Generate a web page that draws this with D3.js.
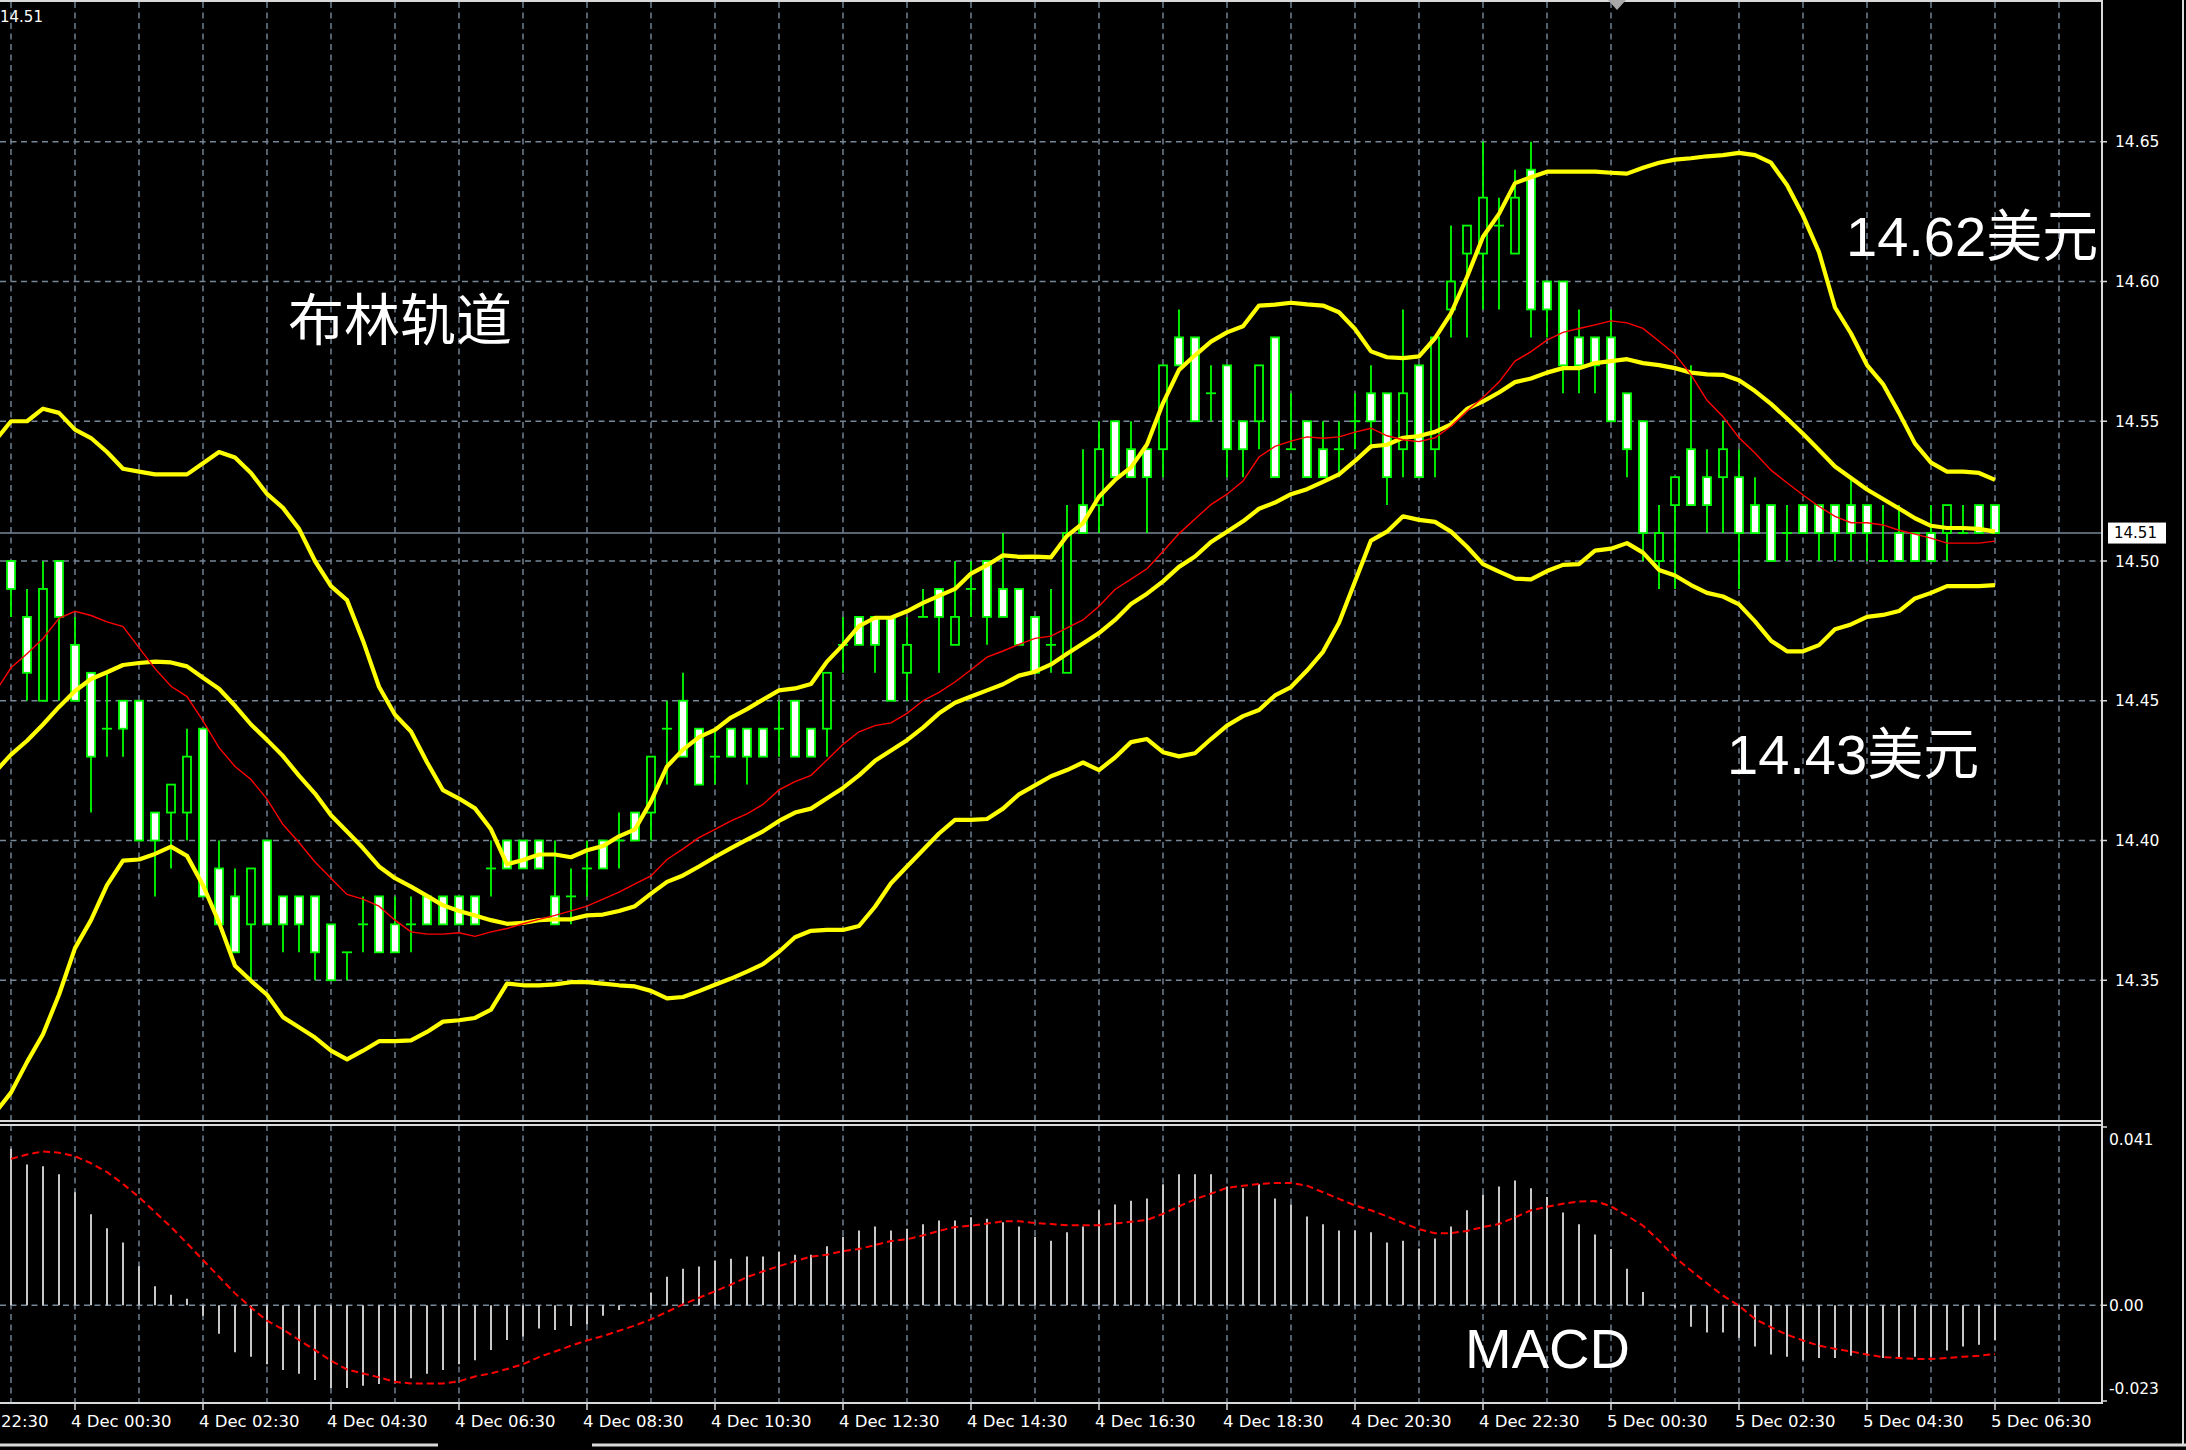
<!DOCTYPE html>
<html><head><meta charset="utf-8">
<script src="https://cdn.jsdelivr.net/npm/d3@7"></script>
<style>html,body{margin:0;padding:0;background:#000;overflow:hidden}</style>
</head><body>
<svg id="chart" width="2186" height="1450" xmlns="http://www.w3.org/2000/svg"></svg>
<script>
// ---------------- DATA (XAG M15) ----------------
const firstBarTime = "3 Dec 23:30";   // time of the first candle
const barMinutes = 15;
const currentPrice = 14.51;

const openPx  = [14.50,14.48,14.45,14.50,14.47,14.46,14.44,14.45,14.45,14.41,14.41,14.41,14.44,14.39,14.38,14.37,14.40,14.38,14.38,14.38,14.37,14.36,14.37,14.38,14.37,14.37,14.38,14.38,14.38,14.38,14.39,14.40,14.40,14.40,14.38,14.38,14.39,14.40,14.40,14.41,14.41,14.44,14.45,14.44,14.43,14.44,14.44,14.44,14.44,14.45,14.44,14.44,14.47,14.48,14.48,14.48,14.46,14.48,14.49,14.47,14.49,14.50,14.49,14.49,14.48,14.47,14.46,14.52,14.52,14.55,14.54,14.54,14.54,14.58,14.58,14.56,14.57,14.55,14.55,14.58,14.54,14.55,14.54,14.54,14.55,14.56,14.56,14.54,14.57,14.54,14.59,14.61,14.61,14.62,14.61,14.64,14.60,14.60,14.58,14.58,14.58,14.56,14.55,14.50,14.52,14.54,14.53,14.53,14.53,14.52,14.52,14.51,14.52,14.52,14.52,14.52,14.52,14.50,14.51,14.51,14.51,14.51,14.51,14.52,14.52];
const highPx  = [14.50,14.49,14.50,14.50,14.48,14.46,14.46,14.45,14.45,14.41,14.42,14.44,14.44,14.40,14.39,14.39,14.40,14.38,14.38,14.38,14.37,14.36,14.38,14.38,14.38,14.38,14.38,14.38,14.38,14.38,14.40,14.40,14.40,14.40,14.40,14.39,14.40,14.40,14.41,14.41,14.43,14.45,14.46,14.44,14.44,14.44,14.44,14.44,14.45,14.45,14.44,14.46,14.48,14.48,14.48,14.48,14.48,14.49,14.49,14.50,14.50,14.50,14.51,14.49,14.48,14.49,14.52,14.54,14.55,14.55,14.55,14.54,14.57,14.59,14.58,14.57,14.57,14.55,14.57,14.58,14.56,14.55,14.55,14.55,14.56,14.57,14.56,14.59,14.57,14.58,14.62,14.62,14.65,14.63,14.64,14.65,14.60,14.60,14.59,14.58,14.59,14.56,14.55,14.52,14.53,14.57,14.54,14.55,14.54,14.53,14.52,14.52,14.52,14.52,14.52,14.53,14.52,14.52,14.52,14.51,14.52,14.52,14.52,14.52,14.52];
const lowPx   = [14.48,14.45,14.45,14.45,14.45,14.41,14.43,14.43,14.40,14.38,14.39,14.40,14.38,14.37,14.36,14.35,14.37,14.36,14.36,14.35,14.35,14.35,14.36,14.36,14.36,14.36,14.37,14.37,14.37,14.37,14.38,14.39,14.39,14.39,14.37,14.37,14.38,14.39,14.39,14.40,14.40,14.42,14.43,14.42,14.42,14.43,14.42,14.43,14.43,14.43,14.43,14.43,14.46,14.47,14.46,14.45,14.45,14.48,14.46,14.47,14.48,14.47,14.48,14.47,14.46,14.46,14.46,14.51,14.51,14.53,14.53,14.51,14.53,14.57,14.55,14.55,14.53,14.53,14.54,14.53,14.54,14.53,14.53,14.53,14.54,14.54,14.52,14.53,14.53,14.53,14.58,14.58,14.59,14.59,14.61,14.58,14.58,14.56,14.56,14.56,14.55,14.53,14.50,14.49,14.49,14.52,14.51,14.51,14.49,14.51,14.50,14.50,14.51,14.50,14.50,14.50,14.50,14.50,14.50,14.50,14.50,14.50,14.51,14.51,14.51];
const closePx = [14.49,14.46,14.49,14.48,14.45,14.43,14.44,14.44,14.40,14.40,14.42,14.43,14.38,14.37,14.36,14.39,14.37,14.37,14.37,14.36,14.35,14.36,14.37,14.36,14.36,14.37,14.37,14.37,14.37,14.37,14.39,14.39,14.39,14.39,14.37,14.38,14.39,14.39,14.40,14.40,14.43,14.44,14.43,14.42,14.43,14.43,14.43,14.43,14.44,14.43,14.43,14.46,14.47,14.47,14.47,14.45,14.47,14.48,14.48,14.48,14.49,14.48,14.48,14.47,14.46,14.47,14.51,14.51,14.54,14.53,14.53,14.53,14.57,14.57,14.55,14.56,14.54,14.54,14.57,14.53,14.54,14.53,14.53,14.54,14.55,14.55,14.53,14.56,14.53,14.58,14.60,14.62,14.63,14.62,14.63,14.59,14.59,14.57,14.57,14.57,14.55,14.54,14.51,14.51,14.53,14.52,14.52,14.54,14.51,14.51,14.50,14.51,14.51,14.51,14.51,14.51,14.51,14.50,14.50,14.50,14.50,14.52,14.51,14.51,14.51];

// Indicator lines: first value belongs to the bar just before the first candle (off the left edge)
const bbUpper = [14.543,14.550,14.550,14.5545,14.553,14.547,14.544,14.539,14.533,14.532,14.531,14.531,14.531,14.535,14.539,14.537,14.5315,14.524,14.519,14.5115,14.500,14.491,14.486,14.4715,14.455,14.445,14.439,14.428,14.418,14.415,14.4115,14.404,14.3915,14.393,14.395,14.395,14.394,14.3965,14.398,14.4015,14.404,14.414,14.4265,14.4325,14.437,14.4396,14.444,14.447,14.4504,14.4537,14.4544,14.456,14.464,14.470,14.4767,14.4797,14.4797,14.482,14.485,14.4875,14.490,14.4955,14.4985,14.502,14.5015,14.5016,14.5013,14.509,14.5135,14.523,14.529,14.5335,14.5417,14.5565,14.5684,14.5736,14.5785,14.5818,14.584,14.5914,14.5917,14.5924,14.5918,14.5914,14.589,14.583,14.575,14.5729,14.5726,14.5732,14.5797,14.5886,14.6016,14.616,14.6242,14.6352,14.6373,14.6393,14.6393,14.6393,14.6393,14.6389,14.6386,14.6407,14.6425,14.6436,14.6441,14.6448,14.6452,14.646,14.6452,14.6425,14.6345,14.6236,14.6105,14.5907,14.5814,14.5701,14.5633,14.553,14.542,14.5352,14.532,14.532,14.5315,14.529];
const bbMiddle = [14.4245,14.4307,14.4357,14.4415,14.4478,14.4535,14.4578,14.4602,14.4628,14.4635,14.464,14.4637,14.4623,14.4582,14.4543,14.4482,14.4415,14.436,14.4302,14.4232,14.4168,14.409,14.4032,14.3973,14.3907,14.3865,14.3835,14.3802,14.3768,14.3748,14.3732,14.3715,14.3702,14.3705,14.3715,14.3718,14.3718,14.3732,14.3735,14.3748,14.3765,14.381,14.3852,14.3875,14.3907,14.3941,14.3973,14.4003,14.4033,14.407,14.41,14.4114,14.4151,14.4188,14.4233,14.4285,14.4322,14.4359,14.4404,14.4455,14.4493,14.4515,14.4537,14.4559,14.459,14.4604,14.463,14.4668,14.4705,14.4742,14.4789,14.4846,14.4883,14.4927,14.4979,14.5016,14.5068,14.5105,14.5142,14.5187,14.5209,14.5239,14.5257,14.5283,14.531,14.5358,14.541,14.5416,14.5441,14.5447,14.5462,14.5489,14.5544,14.5571,14.5603,14.564,14.5653,14.5674,14.569,14.569,14.5708,14.5715,14.5722,14.5708,14.5701,14.569,14.5674,14.5668,14.5666,14.5647,14.5608,14.5562,14.551,14.5455,14.5397,14.5338,14.5297,14.5256,14.5222,14.5188,14.5153,14.5126,14.5118,14.5118,14.5115,14.5105];
const bbLower = [14.3025,14.3098,14.3207,14.3307,14.3448,14.3615,14.3715,14.384,14.3928,14.3932,14.3952,14.3978,14.3945,14.384,14.3707,14.3552,14.3498,14.3448,14.3368,14.3332,14.3295,14.3248,14.3217,14.3248,14.3282,14.3282,14.3285,14.3315,14.3352,14.3357,14.3365,14.3395,14.3488,14.3482,14.3482,14.3485,14.3493,14.3493,14.3488,14.3482,14.3478,14.3462,14.3435,14.344,14.3461,14.3484,14.3506,14.3531,14.3558,14.3602,14.3654,14.3677,14.368,14.368,14.3694,14.3763,14.3847,14.3907,14.3966,14.4025,14.4074,14.4074,14.4077,14.4114,14.4165,14.4197,14.423,14.4252,14.4279,14.4252,14.4297,14.4352,14.4363,14.4316,14.4301,14.4312,14.4363,14.4411,14.4445,14.4467,14.4519,14.4549,14.4608,14.4675,14.4779,14.4927,14.5073,14.5105,14.516,14.5147,14.514,14.5105,14.5051,14.4989,14.4962,14.4937,14.4934,14.4964,14.4986,14.4989,14.5037,14.5044,14.5064,14.503,14.4968,14.4948,14.4914,14.4886,14.4873,14.4845,14.4784,14.4715,14.4677,14.4677,14.4699,14.4756,14.4773,14.48,14.4807,14.4821,14.4866,14.4886,14.491,14.491,14.491,14.4914];
const maRed = [14.453,14.4618,14.4668,14.4723,14.4795,14.482,14.4805,14.4782,14.4765,14.469,14.4615,14.4552,14.4515,14.4428,14.4332,14.4265,14.4218,14.4148,14.4057,14.3993,14.3923,14.3865,14.3807,14.379,14.3765,14.3715,14.3673,14.3665,14.3665,14.367,14.3657,14.3673,14.3685,14.3702,14.3718,14.3732,14.3748,14.3765,14.379,14.3815,14.3845,14.3873,14.3932,14.397,14.401,14.404,14.407,14.4095,14.4129,14.4181,14.4211,14.4233,14.4288,14.4344,14.4389,14.4411,14.4421,14.4455,14.45,14.453,14.4567,14.4611,14.4656,14.4678,14.4702,14.4723,14.4731,14.4761,14.4789,14.4838,14.4898,14.4935,14.4972,14.5034,14.5098,14.515,14.5202,14.5239,14.5286,14.5372,14.541,14.5429,14.5444,14.5439,14.5444,14.5461,14.5475,14.5448,14.5434,14.5427,14.5441,14.5482,14.5537,14.5585,14.564,14.5715,14.5749,14.579,14.5818,14.5832,14.5845,14.5859,14.5852,14.5832,14.5786,14.574,14.5667,14.5575,14.5516,14.5441,14.5386,14.5325,14.528,14.5236,14.5195,14.516,14.5137,14.5137,14.5129,14.511,14.5096,14.5082,14.5064,14.5064,14.5064,14.5071];

const macdHist = [0.0356,0.0320,0.0316,0.0298,0.0257,0.0207,0.0175,0.0143,0.0089,0.0043,0.0024,0.0015,-0.0024,-0.0065,-0.0107,-0.0117,-0.0134,-0.0147,-0.0156,-0.0170,-0.0188,-0.0188,-0.0183,-0.0179,-0.0178,-0.0166,-0.0156,-0.0147,-0.0134,-0.0125,-0.0102,-0.0079,-0.0071,-0.0053,-0.0056,-0.0047,-0.0044,-0.0024,-0.0011,-0.0002,0.0029,0.0065,0.0083,0.0088,0.0102,0.0106,0.0111,0.0111,0.0121,0.0115,0.0115,0.0134,0.0156,0.0170,0.0179,0.0170,0.0174,0.0184,0.0193,0.0193,0.0200,0.0197,0.0189,0.0179,0.0156,0.0147,0.0166,0.0179,0.0216,0.0229,0.0238,0.0243,0.0275,0.0298,0.0298,0.0298,0.0270,0.0266,0.0275,0.0243,0.0229,0.0202,0.0184,0.0170,0.0170,0.0166,0.0143,0.0147,0.0129,0.0152,0.0179,0.0216,0.0252,0.0270,0.0284,0.0266,0.0246,0.0211,0.0184,0.0161,0.0128,0.0083,0.0030,0.0002,-0.0005,-0.0049,-0.0062,-0.0062,-0.0074,-0.0094,-0.0112,-0.0117,-0.0125,-0.0120,-0.0120,-0.0115,-0.0115,-0.0120,-0.0120,-0.0117,-0.0117,-0.0103,-0.0094,-0.0090,-0.0079];
const macdSignal = [0.0333,0.0343,0.0350,0.0347,0.0339,0.0323,0.0303,0.0276,0.0246,0.0212,0.0178,0.0141,0.0103,0.0065,0.0027,-0.0005,-0.0035,-0.0055,-0.0079,-0.0102,-0.0126,-0.0146,-0.0155,-0.0164,-0.0174,-0.0178,-0.0178,-0.0178,-0.0173,-0.0162,-0.0155,-0.0145,-0.0134,-0.0118,-0.0105,-0.0092,-0.0080,-0.0070,-0.0058,-0.0046,-0.0032,-0.0015,0.0002,0.0017,0.0032,0.0047,0.0064,0.0077,0.0089,0.0100,0.0111,0.0115,0.0123,0.0128,0.0137,0.0146,0.0150,0.0159,0.0169,0.0178,0.0181,0.0186,0.0191,0.0191,0.0187,0.0185,0.0182,0.0182,0.0182,0.0186,0.0190,0.0194,0.0208,0.0225,0.0241,0.0254,0.0267,0.0272,0.0276,0.0278,0.0278,0.0272,0.0257,0.0242,0.0227,0.0216,0.0202,0.0187,0.0173,0.0164,0.0164,0.0169,0.0178,0.0185,0.0200,0.0216,0.0224,0.0231,0.0236,0.0237,0.0225,0.0204,0.0181,0.0147,0.0109,0.0079,0.0050,0.0022,-0.0001,-0.0031,-0.0050,-0.0067,-0.0080,-0.0092,-0.0099,-0.0105,-0.0112,-0.0118,-0.0120,-0.0122,-0.0122,-0.0120,-0.0117,-0.0115,-0.0111];

const priceTicks = [14.35, 14.40, 14.45, 14.50, 14.55, 14.60, 14.65];
const macdTickValues = [0.041, 0, -0.023];
const macdTickLabels = ["0.041", "0.00", "-0.023"];
const timeTickLabels = ["3 Dec 22:30","4 Dec 00:30","4 Dec 02:30","4 Dec 04:30","4 Dec 06:30","4 Dec 08:30","4 Dec 10:30","4 Dec 12:30","4 Dec 14:30","4 Dec 16:30","4 Dec 18:30","4 Dec 20:30","4 Dec 22:30","5 Dec 00:30","5 Dec 02:30","5 Dec 04:30","5 Dec 06:30"];

const titleText = "布林轨道";
const upperNote = "14.62美元";
const lowerNote = "14.43美元";
const macdText = "MACD";

// ---------------- LAYOUT ----------------
const W = 2186, H = 1450;
const plotL = 0, plotR = 2102;
const mainTop = 2, mainBot = 1120;
const macdTop = 1125, macdBot = 1402;
const frameColor = "#d9d9d9";
const gridColor = "#778899";
const axisFont = "'DejaVu Sans', Verdana, sans-serif";

const svg = d3.select("#chart");
svg.append("rect").attr("width", W).attr("height", H).attr("fill", "#000");

const parseT = d3.timeParse("%d %b %H:%M");
const t0 = parseT(firstBarTime);
const barTime = k => d3.timeMinute.offset(t0, barMinutes * k);
const nBars = openPx.length;

const x = d3.scaleTime().domain([barTime(0), barTime(nBars - 1)]).range([11, 1995]);
const y = d3.scaleLinear().domain([14.30, 14.70]).range([mainBot, mainTop]);
const ym = d3.scaleLinear().domain([-0.022, 0.041]).range([macdBot, macdTop]);

const defs = svg.append("defs");
defs.append("clipPath").attr("id", "clipMain").append("rect")
  .attr("x", plotL).attr("y", mainTop).attr("width", plotR - plotL).attr("height", mainBot - mainTop);
defs.append("clipPath").attr("id", "clipMacd").append("rect")
  .attr("x", plotL).attr("y", macdTop).attr("width", plotR - plotL).attr("height", macdBot - macdTop);

// ---------- grid ----------
const grid = svg.append("g").attr("stroke", gridColor).attr("stroke-width", 1.4).attr("stroke-dasharray", "6,4.5").attr("fill", "none");
const gridTimes = d3.range(0, 34).map(h => d3.timeHour.offset(t0, h)).filter(t => x(t) < plotR - 2);
gridTimes.forEach(t => {
  grid.append("line").attr("x1", x(t)).attr("x2", x(t)).attr("y1", mainTop).attr("y2", mainBot);
  grid.append("line").attr("x1", x(t)).attr("x2", x(t)).attr("y1", macdTop).attr("y2", macdBot);
});
priceTicks.forEach(p => grid.append("line").attr("x1", plotL).attr("x2", plotR).attr("y1", y(p)).attr("y2", y(p)));
grid.append("line").attr("x1", plotL).attr("x2", plotR).attr("y1", ym(0)).attr("y2", ym(0));

// current price line
svg.append("line").attr("x1", plotL).attr("x2", plotR).attr("y1", y(currentPrice)).attr("y2", y(currentPrice))
  .attr("stroke", gridColor).attr("stroke-width", 1.6);

// ---------- candles ----------
const main = svg.append("g").attr("clip-path", "url(#clipMain)");
const bars = d3.range(nBars).map(k => ({t: barTime(k), o: openPx[k], h: highPx[k], l: lowPx[k], c: closePx[k]}));
const lime = "#00ff00";
main.append("g").selectAll("line").data(bars).join("line")
  .attr("x1", d => x(d.t)).attr("x2", d => x(d.t))
  .attr("y1", d => y(d.h)).attr("y2", d => y(d.l))
  .attr("stroke", lime).attr("stroke-width", 1.8);
const bodyHalf = 4;
main.append("g").selectAll("rect").data(bars.filter(d => d.o !== d.c)).join("rect")
  .attr("x", d => x(d.t) - bodyHalf).attr("width", bodyHalf * 2)
  .attr("y", d => y(Math.max(d.o, d.c))).attr("height", d => Math.abs(y(d.o) - y(d.c)))
  .attr("fill", d => d.c < d.o ? "#ffffff" : "#000000")
  .attr("stroke", lime).attr("stroke-width", 1.8);
main.append("g").selectAll("line").data(bars.filter(d => d.o === d.c)).join("line")
  .attr("x1", d => x(d.t) - bodyHalf - 1).attr("x2", d => x(d.t) + bodyHalf + 1)
  .attr("y1", d => y(d.c)).attr("y2", d => y(d.c))
  .attr("stroke", lime).attr("stroke-width", 1.8);

// ---------- Bollinger bands & MA ----------
const lineGen = d3.line().x((v, k) => x(barTime(k - 1))).y(v => y(v));
[bbUpper, bbMiddle, bbLower].forEach(arr => {
  main.append("path").attr("d", lineGen(arr)).attr("fill", "none")
    .attr("stroke", "#ffff00").attr("stroke-width", 4.2).attr("stroke-linejoin", "round");
});
main.append("path").attr("d", lineGen(maRed)).attr("fill", "none")
  .attr("stroke", "#ff0000").attr("stroke-width", 1.4);

// ---------- MACD ----------
const macd = svg.append("g").attr("clip-path", "url(#clipMacd)");
macd.append("g").selectAll("line").data(macdHist).join("line")
  .attr("x1", (v, k) => x(barTime(k))).attr("x2", (v, k) => x(barTime(k)))
  .attr("y1", ym(0)).attr("y2", v => ym(v))
  .attr("stroke", "#c8c8c8").attr("stroke-width", 2);
macd.append("path")
  .attr("d", d3.line().x((v, k) => x(barTime(k))).y(v => ym(v))(macdSignal))
  .attr("fill", "none").attr("stroke", "#ff0000").attr("stroke-width", 2).attr("stroke-dasharray", "7,4");

// ---------- frames ----------
const frame = svg.append("g").attr("stroke", frameColor).attr("stroke-width", 2).attr("fill", "none");
frame.append("line").attr("x1", 0).attr("x2", plotR).attr("y1", 1).attr("y2", 1);
frame.append("line").attr("x1", 0).attr("x2", plotR).attr("y1", mainBot + 1).attr("y2", mainBot + 1);
frame.append("line").attr("x1", 0).attr("x2", plotR).attr("y1", macdTop).attr("y2", macdTop);
frame.append("line").attr("x1", 0).attr("x2", plotR).attr("y1", macdBot + 1).attr("y2", macdBot + 1);
frame.append("line").attr("x1", plotR).attr("x2", plotR).attr("y1", 0).attr("y2", macdBot + 2);
// window frame
frame.append("line").attr("x1", 2183).attr("x2", 2183).attr("y1", 0).attr("y2", 1446);
frame.append("line").attr("x1", 0).attr("x2", 438).attr("y1", 1445).attr("y2", 1445).attr("stroke-width", 3);
frame.append("line").attr("x1", 592).attr("x2", 2186).attr("y1", 1445).attr("y2", 1445).attr("stroke-width", 3);

// chart-shift marker
svg.append("path").attr("d", d3.line()([[1608, 0], [1626, 0], [1617, 10]]) + "Z").attr("fill", "#a9a9a9");

// ---------- price axis ----------
const axisG = svg.append("g").attr("font-family", axisFont).attr("font-size", 15.5).attr("fill", "#ffffff");
priceTicks.forEach(p => {
  svg.append("line").attr("x1", plotR).attr("x2", plotR + 5).attr("y1", y(p)).attr("y2", y(p)).attr("stroke", frameColor).attr("stroke-width", 1.5);
  axisG.append("text").attr("x", 2115).attr("y", y(p)).attr("dy", "0.36em").text(d3.format(".2f")(p));
});
macdTickValues.forEach((v, k) => {
  const yy = Math.max(macdTop + 14, Math.min(macdBot - 14, ym(v)));
  const ty = k === 0 ? macdTop + 2 : (k === 2 ? macdBot - 1 : yy);
  svg.append("line").attr("x1", plotR).attr("x2", plotR + 5).attr("y1", ty).attr("y2", ty).attr("stroke", frameColor).attr("stroke-width", 1.5);
  axisG.append("text").attr("x", 2109).attr("y", yy).attr("dy", "0.36em").text(macdTickLabels[k]);
});
// current price tag
svg.append("rect").attr("x", 2108).attr("y", y(currentPrice) - 10.5).attr("width", 58).attr("height", 21).attr("fill", "#ffffff");
svg.append("text").attr("x", 2114).attr("y", y(currentPrice)).attr("dy", "0.36em")
  .attr("font-family", axisFont).attr("font-size", 15).attr("fill", "#000").text(d3.format(".2f")(currentPrice));
// top-left price
svg.append("text").attr("x", 0).attr("y", 17).attr("dy", "0.36em")
  .attr("font-family", axisFont).attr("font-size", 15).attr("fill", "#ffffff").text(d3.format(".2f")(currentPrice));

// ---------- time axis ----------
const timeG = svg.append("g").attr("font-family", axisFont).attr("font-size", 16.5).attr("fill", "#ffffff");
timeTickLabels.forEach(s => {
  const tx = x(parseT(s));
  svg.append("line").attr("x1", tx).attr("x2", tx).attr("y1", macdBot + 1).attr("y2", macdBot + 8).attr("stroke", frameColor).attr("stroke-width", 1.5);
  if (tx - 4 < 0) {
    // label whose start lies left of the window: only its time part shows, at the left edge
    timeG.append("text").attr("x", 1).attr("y", 1421).attr("dy", "0.36em").text(s.split(" ").pop());
  } else {
    timeG.append("text").attr("x", tx - 4).attr("y", 1421).attr("dy", "0.36em").text(s);
  }
});

// ---------- annotations ----------
svg.append("text").attr("x", 288).attr("y", 340).attr("font-family", "'Noto Sans CJK SC', sans-serif")
  .attr("font-size", 56).attr("fill", "#ffffff").text(titleText);
svg.append("text").attr("x", 1846).attr("y", 256).attr("font-family", "'Liberation Sans', Arial, 'Noto Sans CJK SC', sans-serif")
  .attr("font-size", 56).attr("fill", "#ffffff").text(upperNote);
svg.append("text").attr("x", 1727).attr("y", 774).attr("font-family", "'Liberation Sans', Arial, 'Noto Sans CJK SC', sans-serif")
  .attr("font-size", 56).attr("fill", "#ffffff").text(lowerNote);
svg.append("text").attr("x", 1465).attr("y", 1368).attr("font-family", "'Liberation Sans', Arial, sans-serif")
  .attr("font-size", 56).attr("fill", "#ffffff").text(macdText);
</script>
</body></html>
